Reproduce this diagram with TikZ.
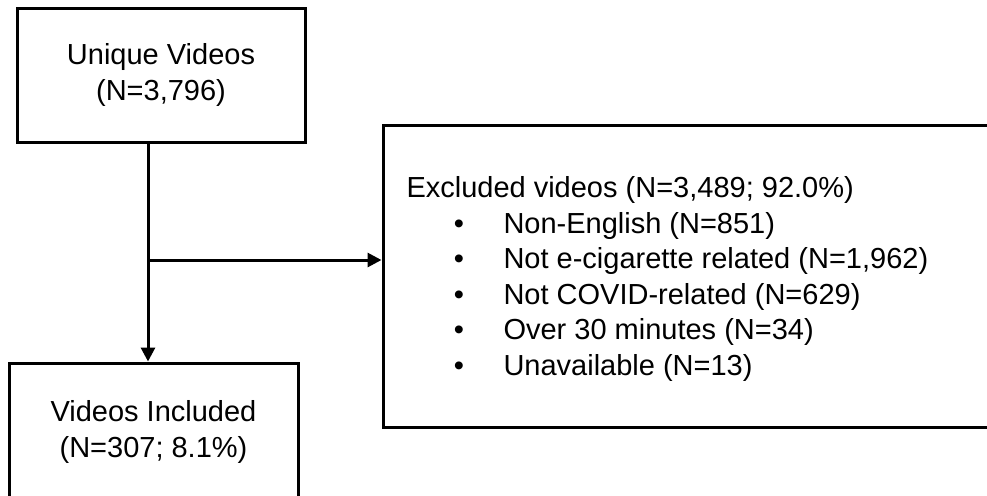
\documentclass[tikz,border=0pt]{standalone}
\usepackage{fontspec}
\setmainfont{Liberation Sans}
\usetikzlibrary{arrows.meta}

\begin{document}
\begin{tikzpicture}[x=0.5pt,y=-0.5pt,line width=1.5pt,
 box/.style={draw,rectangle,align=center,inner sep=0pt,font=\fontsize{14.5pt}{18pt}\selectfont},
 txt/.style={inner sep=0pt,font=\fontsize{14.5pt}{18pt}\selectfont},
 flow/.style={-{Triangle[length=7pt,width=7pt]}}]

 \useasboundingbox (0,0) rectangle (987,495);

 \node[box,minimum width=144pt,minimum height=67pt] (unique) at (161,75) {Unique Videos\\(N=3,796)};
 \node[box,minimum width=144.5pt,minimum height=69pt] (incl) at (153.5,432) {Videos Included\\(N=307; 8.1\%)};
 \node[box,minimum width=308.5pt,minimum height=151pt] (excl) at (691.5,276) {};

 \node[txt,anchor=base west] (head) at (405,197.5) {Excluded videos (N=3,489; 92.0\%)};
 \foreach \t [count=\i] in {Non-English (N=851),{Not e-cigarette related (N=1,962)},
  Not COVID-related (N=629),Over 30 minutes (N=34),Unavailable (N=13)} {
  \node[txt,anchor=base] (dot\i) at (459,197.5+35.5*\i) {\textbullet};
  \node[txt,anchor=base west] (item\i) at (502,197.5+35.5*\i) {\t};
 }

 \coordinate (split) at (150,260);
 \draw[flow] ([xshift=-6.5pt]unique.south) -- ([xshift=-6.5pt]unique.south |- incl.north);
 \draw[flow] (split) -- (split -| excl.west);

\end{tikzpicture}
\end{document}
